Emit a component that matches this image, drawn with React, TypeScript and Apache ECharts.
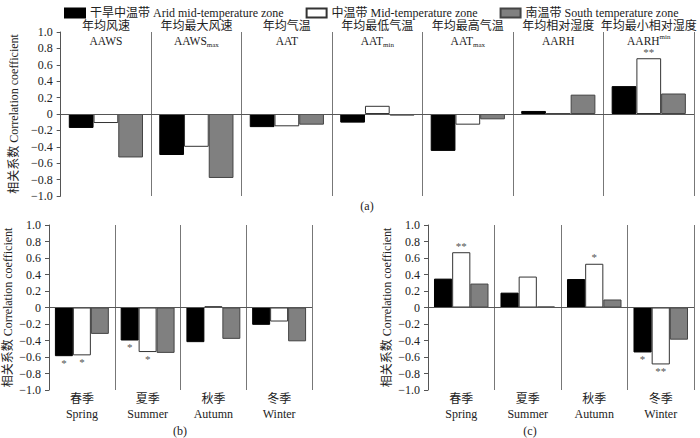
import React, { useEffect, useRef } from "react";
import * as echarts from "echarts";

const FONT = "'Liberation Serif','Noto Sans CJK SC',serif";

// Panel (a) categories
const topCn = ["年均风速", "年均最大风速", "年均气温", "年均最低气温", "年均最高气温", "年均相对湿度", "年均最小相对湿度"];
const topEn = ["{en|AAWS}", "{en|AAWS}{sub|max}", "{en|AAT}", "{en|AAT}{sub|min}", "{en|AAT}{sub|max}", "{en|AARH}", "{en|AARH}{sup|min}"];
// Panels (b),(c) categories
const seasonCn = ["春季", "夏季", "秋季", "冬季"];
const seasonEn = ["Spring", "Summer", "Autumn", "Winter"];

const seriesNames = ["干旱中温带 Arid mid-temperature zone", "中温带 Mid-temperature zone", "南温带 South temperature zone"];

// (a)
const aridA = [-0.17, -0.5, -0.16, -0.105, -0.45, 0.037, 0.34];
const midA = [-0.11, -0.4, -0.15, 0.1, -0.13, 0.005, 0.68];
const southA = [-0.53, -0.78, -0.13, -0.02, -0.065, 0.236, 0.25];
const sigAridA = ["", "", "", "", "", "", ""];
const sigMidA = ["", "", "", "", "", "", "**"];
const sigSouthA = ["", "", "", "", "", "", ""];
// (b)
const aridB = [-0.59, -0.4, -0.42, -0.21];
const midB = [-0.58, -0.54, 0.015, -0.17];
const southB = [-0.32, -0.55, -0.38, -0.41];
const sigAridB = ["*", "*", "", ""];
const sigMidB = ["*", "*", "", ""];
const sigSouthB = ["", "", "", ""];
// (c)
const aridC = [0.35, 0.18, 0.345, -0.545];
const midC = [0.67, 0.375, 0.53, -0.69];
const southC = [0.29, 0.012, 0.097, -0.39];
const sigAridC = ["", "", "", "*"];
const sigMidC = ["**", "", "*", "**"];
const sigSouthC = ["", "", "", ""];

const yTicks = { min: -1, max: 1, interval: 0.2 };

const colors = [
  { color: "#000000", borderColor: "#000000" },
  { color: "#ffffff", borderColor: "#333333" },
  { color: "#808080", borderColor: "#444444" },
];

function fmtY(v: number) {
  if (Math.abs(v) < 1e-9) return "0";
  return (v < 0 ? "\u2212" : "") + Math.abs(v).toFixed(1);
}

function makeSeries(idx: number, values: number[], sig: string[], gi: number, withZero: boolean) {
  const s: any = {
    type: "bar",
    name: seriesNames[idx],
    xAxisIndex: gi,
    yAxisIndex: gi,
    barGap: "0%",
    barCategoryGap: "18%",
    itemStyle: { color: colors[idx].color, borderColor: colors[idx].borderColor, borderWidth: 1 },
    data: values.map((v, i) => ({
      value: v,
      label: {
        show: !!sig[i],
        formatter: sig[i],
        position: v >= 0 ? "top" : "bottom",
        distance: 1,
        color: "#555",
        fontSize: 11,
        fontFamily: FONT,
      },
    })),
  };
  if (withZero) {
    s.markLine = {
      silent: true,
      symbol: "none",
      label: { show: false },
      lineStyle: { color: "#555", type: "solid", width: 1 },
      data: [{ yAxis: 0 }],
    };
  }
  return s;
}

export default function App() {
  const ref = useRef<HTMLDivElement>(null);
  useEffect(() => {
    if (!ref.current) return;
    const chart = echarts.init(ref.current, undefined, { renderer: "svg" });
    const yAxisBase = (gi: number) => ({
      type: "value",
      gridIndex: gi,
      ...yTicks,
      name: "相关系数 Correlation coefficient",
      nameLocation: "middle",
      nameRotate: 90,
      nameGap: 35,
      nameTextStyle: { fontSize: 12, fontFamily: FONT, color: "#222" },
      axisLine: { show: true, lineStyle: { color: "#555" } },
      axisTick: { show: true, length: 4, lineStyle: { color: "#555" } },
      axisLabel: { formatter: fmtY, fontSize: 12, fontFamily: FONT, color: "#222", margin: 8 },
      splitLine: { show: false },
    });
    const richStyle = {
      cn: { fontSize: 12, lineHeight: 15, fontFamily: FONT, color: "#222" },
      en: { fontSize: 11.5, lineHeight: 15, fontFamily: FONT, color: "#222" },
      sub: { fontSize: 7, lineHeight: 8, verticalAlign: "bottom", fontFamily: FONT, color: "#222" },
      sup: { fontSize: 7, lineHeight: 8, verticalAlign: "top", fontFamily: FONT, color: "#222" },
      scn: { fontSize: 12, lineHeight: 15, fontFamily: FONT, color: "#222" },
      sen: { fontSize: 12, lineHeight: 15, fontFamily: FONT, color: "#222" },
    };
    const xAxisBase = (gi: number, data: string[], position: string, margin: number) => ({
      type: "category",
      gridIndex: gi,
      data,
      position,
      boundaryGap: true,
      axisLine: { show: false, onZero: false },
      axisTick: { show: false },
      axisLabel: { interval: 0, margin, rich: richStyle, color: "#222" },
      splitLine: { show: true, interval: 0, lineStyle: { color: "#777", width: 1 } },
    });
    const catA = topCn.map((c, i) => `{cn|${c}}\n${topEn[i]}`);
    const catS = seasonCn.map((c, i) => `{scn|${c}}\n{sen|${seasonEn[i]}}`);

    const option: any = {
      animation: false,
      backgroundColor: "#ffffff",
      textStyle: { fontFamily: FONT },
      legend: {
        data: seriesNames,
        left: 59,
        top: 2,
        itemWidth: 20,
        itemHeight: 9,
        itemGap: 22,
        itemTextGap: 3,
        icon: "rect",
        textStyle: { fontSize: 12, fontFamily: FONT, color: "#222" },
      },
      grid: [
        { left: 49, top: 32, width: 645, height: 164 },
        { left: 49, top: 225, width: 263, height: 165 },
        { left: 428, top: 225, width: 266, height: 165 },
      ],
      xAxis: [
        xAxisBase(0, catA, "top", -16),
        xAxisBase(1, catS, "bottom", 1),
        xAxisBase(2, catS, "bottom", 1),
      ],
      yAxis: [yAxisBase(0), yAxisBase(1), yAxisBase(2)],
      graphic: [
        { type: "text", x: 367, y: 206, style: { text: "(a)", fontSize: 12, fontFamily: FONT, fill: "#222", align: "center", verticalAlign: "middle" } },
        { type: "text", x: 180, y: 431, style: { text: "(b)", fontSize: 12, fontFamily: FONT, fill: "#222", align: "center", verticalAlign: "middle" } },
        { type: "text", x: 530, y: 431, style: { text: "(c)", fontSize: 12, fontFamily: FONT, fill: "#222", align: "center", verticalAlign: "middle" } },
      ],
      series: [
        makeSeries(0, aridA, sigAridA, 0, true),
        makeSeries(1, midA, sigMidA, 0, false),
        makeSeries(2, southA, sigSouthA, 0, false),
        makeSeries(0, aridB, sigAridB, 1, true),
        makeSeries(1, midB, sigMidB, 1, false),
        makeSeries(2, southB, sigSouthB, 1, false),
        makeSeries(0, aridC, sigAridC, 2, true),
        makeSeries(1, midC, sigMidC, 2, false),
        makeSeries(2, southC, sigSouthC, 2, false),
      ],
    };
    chart.setOption(option);
    return () => chart.dispose();
  }, []);
  return <div ref={ref} style={{ position: "fixed", left: 0, top: 0, width: 700, height: 438 }} />;
}
